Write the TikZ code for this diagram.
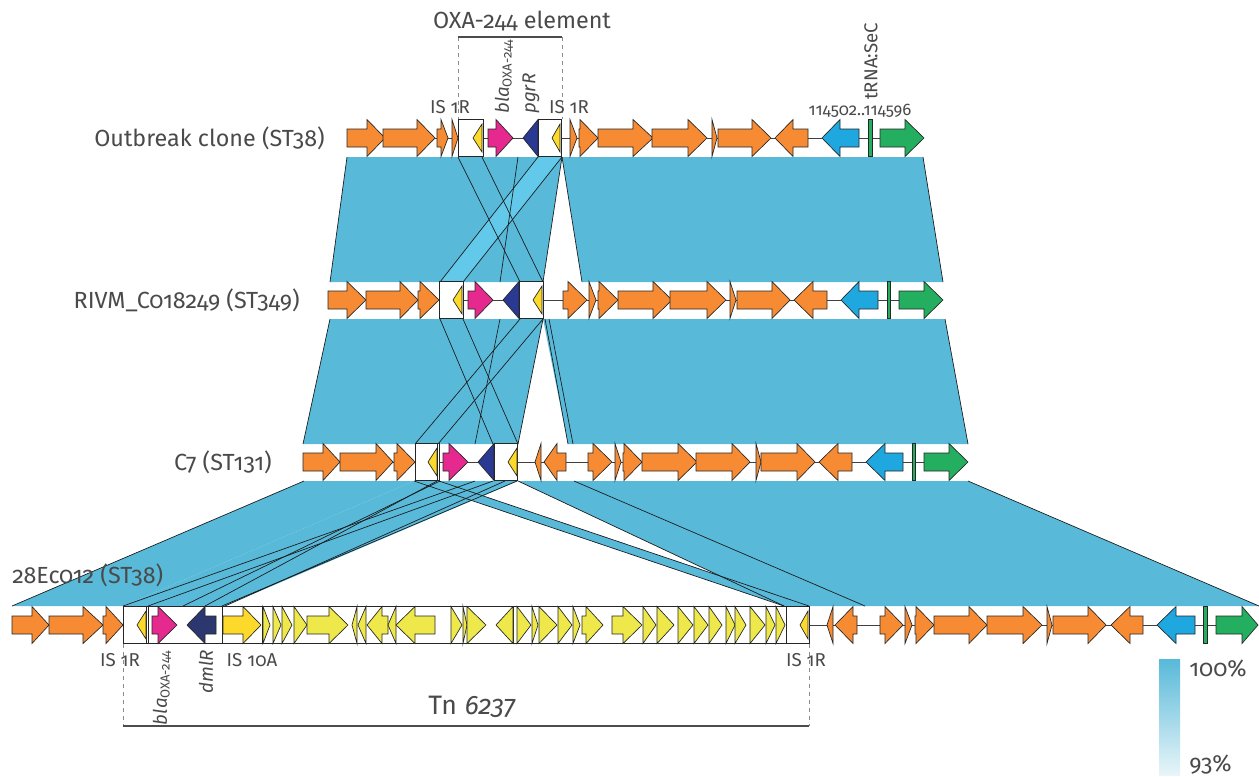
\documentclass[tikz,border=0pt]{standalone}
\usepackage{fontspec}
\setmainfont{Fira Sans}[Numbers=OldStyle]
\definecolor{orng}{HTML}{F68B33}
\definecolor{yIS}{HTML}{FDD92B}
\definecolor{yTn}{HTML}{EEE84A}
\definecolor{mag}{HTML}{E6298F}
\definecolor{navy}{HTML}{2A3A93}
\definecolor{navyb}{HTML}{2C376F}
\definecolor{gblue}{HTML}{1FA8DF}
\definecolor{ggreen}{HTML}{24AE5F}
\definecolor{band}{HTML}{58B9D9}
\definecolor{bandl}{HTML}{62C9EA}
\definecolor{bandw}{HTML}{E8F5F9}
\definecolor{txt}{HTML}{4A4A4A}
\newcommand\GeneR[4]{\filldraw[gene,fill=#1] (#2,-9) -- (#3,-9) -- (#3,-18.5) -- (#4,0) -- (#3,18.5) -- (#3,9) -- (#2,9) -- cycle;}
\newcommand\GeneL[4]{\filldraw[gene,fill=#1] (#4,-9) -- (#3,-9) -- (#3,-18.5) -- (#2,0) -- (#3,18.5) -- (#3,9) -- (#4,9) -- cycle;}
\newcommand\GeneY[2]{\filldraw[gene,fill=yIS] (#1,0) -- (#2,-14) -- (#2,14) -- cycle;}
\newcommand\GeneBox[2]{\filldraw[gene,fill=white] (#1,-18.5) rectangle (#2,18.5);}
\newcommand\GeneBar[2]{\filldraw[gene,fill=ggreen] (#1,-18.5) rectangle (#2,18.5);}
\begin{document}
\begin{tikzpicture}[x=0.75pt,y=-0.75pt,
  gene/.style={draw=black!85,line width=0.5pt,line join=miter},
  backbone/.style={draw=black!75,line width=0.6pt},
  edge/.style={draw=black!90,line width=0.5pt},
  lbl/.style={text=txt,font=\fontsize{17.5}{20}\selectfont,inner sep=0pt},
  lblsm/.style={text=txt,font=\fontsize{14}{16}\selectfont,inner sep=0pt},
  lbltn/.style={text=txt,font=\fontsize{12.5}{14}\selectfont,inner sep=0pt},
  lbltn2/.style={text=txt,font=\fontsize{20}{24}\selectfont,inner sep=0pt},
  dashline/.style={draw=black!45,dashed,line width=0.5pt},
  brk/.style={draw=black!70,line width=2pt}]
\fill[white] (0,0) rectangle (1259,776);
\useasboundingbox (0,0) rectangle (1259,776);

% ---------- band 1 ----------
\fill[band] (347,157) -- (562,157) -- (543,282) -- (330,282) -- cycle;
\fill[band] (562,157) -- (923,157) -- (943,282) -- (582,282) -- cycle;
\fill[bandl] (538,157) -- (562,157) -- (463,282) -- (440,282) -- cycle;
\draw[edge] (347,157) -- (330,282);
\draw[edge] (923,157) -- (943,282);
\draw[edge] (458,157) -- (520,282);
\draw[edge] (482,157) -- (543,282);
\draw[edge] (518,157) -- (500,282);
\draw[edge] (538,157) -- (440,282);
\draw[edge] (562,157) -- (463,282);
\draw[edge] (562,157) -- (543,282);
\draw[edge] (562,157) -- (582,282);
% ---------- band 2 ----------
\fill[band] (330,319) -- (543,319) -- (518,444) -- (303,444) -- cycle;
\fill[band] (543,319) -- (945,319) -- (968,444) -- (568,444) -- cycle;
\draw[edge] (330,319) -- (303,444);
\draw[edge] (945,319) -- (968,444);
\draw[edge] (440,319) -- (493,444);
\draw[edge] (463,319) -- (518,444);
\draw[edge] (500,319) -- (475,444);
\draw[edge] (520,319) -- (415,444);
\draw[edge] (543,319) -- (438,444);
\draw[edge] (543,319) -- (518,444);
\draw[edge] (545,319) -- (568,444);
\draw[edge] (549,319) -- (573,444);
% ---------- band 3 ----------
\fill[band] (304,481) -- (414,481) -- (123,606) -- (12,606) -- cycle;
\fill[band] (414,481) -- (518,481) -- (225,606) -- (123,606) -- cycle;
\fill[band] (518,481) -- (968,481) -- (1259,606) -- (784,606) -- cycle;
\fill[band] (414,481) -- (439,481) -- (809,606) -- (784,606) -- cycle;
\draw[edge] (304,481) -- (12,606);
\draw[edge] (968,481) -- (1259,606);
\draw[edge] (475,481) -- (123,606);
\draw[edge] (493,481) -- (148,606);
\draw[edge] (440,481) -- (183,606);
\draw[edge] (437,481) -- (205,606);
\draw[edge] (517,481) -- (222,606);
\draw[edge] (505,481) -- (225,606);
\draw[edge] (414,481) -- (784,606);
\draw[edge] (439,481) -- (809,606);
\draw[edge] (518,481) -- (784,606);
\draw[edge] (574,481) -- (865,606);

% ---------- row 1 ----------
\begin{scope}[shift={(0,138)}]
\draw[backbone] (347,0) -- (924,0);
\GeneR{orng}{347}{367}{385}
\GeneR{orng}{383}{417}{435}
\GeneR{orng}{437}{441}{448}
\GeneR{orng}{452}{452}{458}
\GeneBox{458}{483}\GeneY{473}{482}
\GeneR{mag}{488}{496}{513}
\GeneL{navy}{523}{538}{538}
\GeneBox{538}{561}\GeneY{552}{560}
\GeneR{orng}{570}{570}{577}
\GeneR{orng}{579}{580}{598}
\GeneR{orng}{598}{633}{653}
\GeneR{orng}{652}{688}{707}
\GeneR{orng}{712}{712}{717}
\GeneR{orng}{718}{752}{771}
\GeneL{orng}{775}{793}{808}
\GeneL{gblue}{822}{840}{859}
\GeneBar{868}{872}
\GeneR{ggreen}{880}{905}{924}
\end{scope}
% ---------- row 2 ----------
\begin{scope}[shift={(0,300)}]
\draw[backbone] (328,0) -- (943,0);
\GeneR{orng}{328}{347}{366}
\GeneR{orng}{366}{400}{418}
\GeneR{orng}{418}{420}{439}
\GeneBox{439}{463}\GeneY{453}{462}
\GeneR{mag}{468}{475}{493}
\GeneL{navy}{503}{519}{519}
\GeneBox{519}{543}\GeneY{533}{542}
\GeneR{orng}{563}{568}{587}
\GeneR{orng}{589}{589}{596}
\GeneR{orng}{598}{599}{618}
\GeneR{orng}{618}{653}{672}
\GeneR{orng}{670}{707}{726}
\GeneR{orng}{730}{730}{736}
\GeneR{orng}{737}{772}{790}
\GeneL{orng}{794}{813}{827}
\GeneL{gblue}{841}{859}{878}
\GeneBar{887}{890}
\GeneR{ggreen}{899}{924}{943}
\end{scope}
% ---------- row 3 ----------
\begin{scope}[shift={(0,462)}]
\draw[backbone] (303,0) -- (968,0);
\GeneR{orng}{303}{323}{340}
\GeneR{orng}{340}{376}{393}
\GeneR{orng}{394}{397}{415}
\GeneBox{415}{437}\GeneY{428}{437}
\GeneBox{437}{439}
\GeneR{mag}{443}{449}{468}
\GeneL{navy}{478}{494}{494}
\GeneBox{494}{517}\GeneY{508}{517}
\GeneL{orng}{535}{541}{541}
\GeneL{orng}{544}{557}{566}
\GeneR{orng}{588}{593}{612}
\GeneR{orng}{615}{615}{621}
\GeneR{orng}{623}{624}{642}
\GeneR{orng}{642}{678}{697}
\GeneR{orng}{696}{732}{750}
\GeneR{orng}{756}{756}{761}
\GeneR{orng}{761}{797}{815}
\GeneL{orng}{819}{838}{852}
\GeneL{gblue}{866}{885}{903}
\GeneBar{912}{915}
\GeneR{ggreen}{924}{949}{968}
\end{scope}
% ---------- row 4 ----------
\begin{scope}[shift={(0,625)}]
\draw[backbone] (12,0) -- (1258,0);
\GeneR{orng}{12}{32}{49}
\GeneR{orng}{49}{83}{103}
\GeneR{orng}{103}{106}{123}
\GeneBox{123}{809}
\foreach \s in {146,148,222,262,294,451,513,517,786}{\draw[gene] (\s,-18.5) -- (\s,18.5);}
\GeneY{137}{146}
\GeneR{mag}{152}{158}{177}
\GeneL{navyb}{187}{205}{216}
\GeneR{yIS}{223}{243}{261}
\GeneR{yTn}{263}{263}{270}
\GeneR{yTn}{273}{273}{281}
\GeneR{yTn}{282}{282}{292}
\GeneR{yTn}{294}{294}{307}
\GeneR{yTn}{307}{329}{348}
\GeneL{yTn}{352}{357}{357}
\GeneL{yTn}{358}{366}{366}
\GeneL{yTn}{367}{382}{388}
\GeneL{yTn}{388}{396}{396}
\GeneL{yTn}{396}{415}{435}
\GeneR{yTn}{451}{451}{462}
\GeneR{yTn}{463}{463}{467}
\GeneR{yTn}{467}{467}{486}
\GeneL{yTn}{496}{513}{513}
\GeneR{yTn}{517}{517}{531}
\GeneR{yTn}{532}{532}{538}
\GeneR{yTn}{539}{539}{557}
\GeneR{yTn}{558}{558}{572}
\GeneR{yTn}{573}{573}{580}
\GeneR{yTn}{582}{586}{603}
\GeneR{yTn}{612}{623}{642}
\GeneR{yTn}{643}{643}{656}
\GeneR{yTn}{657}{657}{674}
\GeneR{yTn}{678}{678}{693}
\GeneR{yTn}{694}{694}{708}
\GeneR{yTn}{709}{709}{722}
\GeneR{yTn}{726}{726}{735}
\GeneR{yTn}{735}{735}{746}
\GeneR{yTn}{750}{750}{765}
\GeneR{yTn}{766}{766}{775}
\GeneR{yTn}{776}{776}{785}
\GeneY{800}{808}
\GeneL{orng}{827}{833}{833}
\GeneL{orng}{835}{853}{857}
\GeneR{orng}{880}{885}{903}
\GeneR{orng}{905}{905}{912}
\GeneR{orng}{915}{916}{934}
\GeneR{orng}{934}{969}{987}
\GeneR{orng}{987}{1023}{1042}
\GeneR{orng}{1047}{1047}{1052}
\GeneR{orng}{1053}{1088}{1106}
\GeneL{orng}{1111}{1130}{1143}
\GeneL{gblue}{1157}{1176}{1195}
\GeneBar{1203}{1207}
\GeneR{ggreen}{1216}{1242}{1258}
\end{scope}

% ---------- brackets ----------
\draw[dashline] (458,37) -- (458,119);
\draw[dashline] (562,37) -- (562,119);
\draw[brk] (458,37) -- (562,37);
\node[lbl] (oxa) at (522,21) {OXA-244 element};
\draw[dashline] (123,644) -- (123,726);
\draw[dashline] (809,644) -- (809,726);
\draw[brk] (123,726) -- (809,726);
\node[lbltn2] (tn) at (472,707) {Tn\hspace{0.3em}\textit{6237}};

% ---------- labels ----------
\node[lbl,anchor=east] (l1) at (325,138) {Outbreak clone (ST38)};
\node[lbl,anchor=east] (l2) at (300,300) {RIVM\_C018249 (ST349)};
\node[lbl,anchor=east] (l3) at (272,462) {C7 (ST131)};
\node[lbl,anchor=west] (l4) at (12,575) {28Ec012 (ST38)};

\node[lblsm] (is1) at (450,107) {IS 1R};
\node[lblsm] (is2) at (569,107) {IS 1R};
\node[lblsm,rotate=90,anchor=west] (bla1) at (504,114) {\textit{bla}\textsubscript{OXA-244}};
\node[lblsm,rotate=90,anchor=west] (pgr) at (531,114) {\textit{pgrR}};
\node[lbltn] (num) at (860,111) {114502..114596};
\node[lblsm,rotate=90,anchor=west] (trna) at (871,100) {tRNA:SeC};

\node[lblsm] (is3) at (120,660) {IS 1R};
\node[lblsm] (is4) at (252,660) {IS 10A};
\node[lblsm] (is5) at (806,660) {IS 1R};
\node[lblsm,rotate=90,anchor=east] (bla2) at (162,650) {\textit{bla}\textsubscript{OXA-244}};
\node[lblsm,rotate=90,anchor=east] (dml) at (206,650) {\textit{dmlR}};

% ---------- legend ----------
\shade[top color=band,bottom color=bandw] (1159,659) rectangle (1180,775);
\node[lbl,anchor=west] (p100) at (1189,669) {100\%};
\node[lbl,anchor=west] (p93) at (1189,765) {93\%};
\end{tikzpicture}
\end{document}
